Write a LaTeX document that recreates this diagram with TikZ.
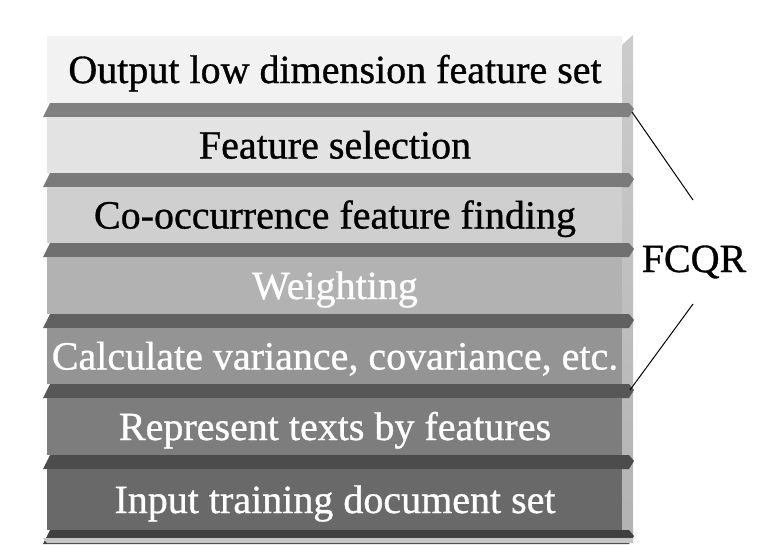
\documentclass[tikz,border=0pt]{standalone}
\usepackage{fontspec}
\setmainfont{Liberation Serif}
\newfontfamily\layerfont[FakeBold=0.8]{Liberation Serif}
\usetikzlibrary{positioning}

\definecolor{faceA}{gray}{0.95}
\definecolor{faceB}{gray}{0.89}
\definecolor{faceC}{gray}{0.81}
\definecolor{faceD}{gray}{0.70}
\definecolor{faceE}{gray}{0.58}
\definecolor{faceF}{gray}{0.49}
\definecolor{faceG}{gray}{0.41}
\definecolor{bandA}{gray}{0.50}
\definecolor{bandB}{gray}{0.48}
\definecolor{bandC}{gray}{0.44}
\definecolor{bandD}{gray}{0.38}
\definecolor{bandE}{gray}{0.34}
\definecolor{bandF}{gray}{0.30}
\definecolor{bandG}{gray}{0.25}

\begin{document}
\begin{tikzpicture}[x=1pt,y=-1pt,
    layer/.style={font=\layerfont\fontsize{40}{48}\selectfont,inner sep=0pt,anchor=base},
    leader/.style={draw=black,line width=1pt}]
  \useasboundingbox (0,0) rectangle (758,544);
  % side face
  \shade[top color=gray!40,bottom color=gray!60] (622,45) -- (633,35) -- (633,540) -- (622,532) -- cycle;
  \foreach \i/\t/\bo/\fc/\bc/\tc/\txt in {
      1/36/103/faceA/bandA/black/{Output low dimension feature set},
      2/117/173/faceB/bandB/black/{Feature selection},
      3/187/243/faceC/bandC/black/{Co-occurrence feature finding},
      4/257/314/faceD/bandD/white/{Weighting},
      5/328/384/faceE/bandE/white/{Calculate variance, covariance, etc.},
      6/398/455/faceF/bandF/white/{Represent texts by features},
      7/469/530/faceG/bandG/white/{Input training document set}}{
    \fill[\fc] (47,\t) rectangle (622,\bo);
    \fill[\bc] (43,\bo+14) -- (50,\bo) -- (629,\bo) -- (634,\bo+6) -- (629,\bo+14) -- cycle;
    \node[layer,text=\tc] (l\i) at (335,{(\t+\bo)/2+13.5}) {\txt};
  }
  % bottom edge
  \fill[gray!45] (43,538) -- (633,538) -- (633,543) -- (47,543) -- cycle;
  \node[layer] (fcqr) at (694,272) {FCQR};
  \coordinate (topend) at (632,112);
  \coordinate (topfree) at (693,200);
  \coordinate (lowfree) at (693,304);
  \coordinate (lowend) at (630,390);
  \draw[leader] (topend) -- (topfree);
  \draw[leader] (lowfree) -- (lowend);
\end{tikzpicture}
\end{document}
